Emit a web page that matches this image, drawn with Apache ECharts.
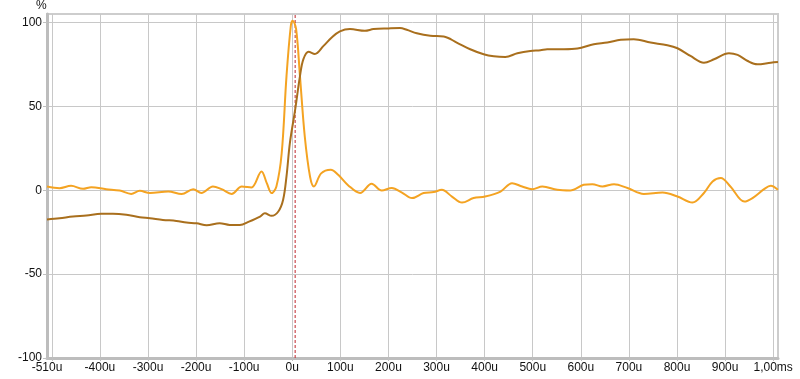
<!DOCTYPE html>
<html>
<head>
<meta charset="utf-8">
<script src="https://cdn.jsdelivr.net/npm/echarts@6/dist/echarts.min.js"></script>
<style>html,body{margin:0;padding:0;background:#fff;}#c{width:800px;height:379px;}</style>
</head>
<body>
<div id="c"></div>
<script>
// Impulse response (orange) — time in microseconds, value in %
var impulseTimes = [-510,-484,-460,-435,-418,-387,-359,-335,-317,-296,-258,-230,-206,-189,-165,-147,-126,-105,-85,-64,-53,-43,-33,-22,-12,-3,1,8,16,26,37,45,60,80,96,116,141,165,186,207,228,249,273,294,311,332,353,377,401,433,457,478,499,520,551,578,606,624,645,669,697,731,770,801,832,856,874,891,911,940,957,981,995,1010];
var impulseValues = [2.2,1.2,2.6,0.8,1.8,0.6,-0.2,-2.2,-0.4,-1.7,-0.8,-2.3,0.6,-1.7,2.2,0.6,-2.2,2.2,1.6,11.2,4.2,-1.7,2.2,22,68,98,101,96,68,32,8,2.2,10,12.2,9,3,-1.7,3.8,-0.2,1.3,-1.4,-4.7,-1.7,-1.1,0.2,-3.8,-7.4,-4.7,-3.8,-0.8,4.2,2.2,0.6,2.2,0.2,-0.2,3.2,3.6,2.2,3.6,1.3,-2.2,-1.4,-3.8,-7.4,-1.7,5.2,7.2,2.2,-6.8,-4.7,0.6,2.6,0.2];

// Step response (brown)
var stepTimes = [-510,-484,-456,-428,-397,-373,-345,-317,-296,-269,-241,-220,-199,-178,-151,-130,-109,-90,-67,-57,-43,-29,-19,-12,-5,6,16,23,34,47,65,82,99,120,151,169,200,224,238,259,287,315,342,370,398,419,443,468,495,516,530,565,593,627,655,683,710,745,780,801,828,856,877,908,926,947,967,995,1010];
var stepValues = [-17.4,-16.7,-15.7,-15.1,-14.1,-14.1,-14.7,-16.1,-16.7,-17.7,-18.3,-19.3,-19.7,-20.9,-19.7,-20.7,-20.7,-18.7,-15.7,-13.7,-15.3,-12.7,-5.7,8.2,28,48,68,78,82.5,81.2,86,91,94.6,96,95,96,96.4,96.6,95.6,93.5,92,91.6,88,84,81,79.8,79.4,81.6,83,83.4,84,84,84.4,87,88,89.6,90,88,86.4,84.6,80,76,78,81.6,80.6,77,75,76,76.4];

var xLabelValues = [-510,-400,-300,-200,-100,0,100,200,300,400,500,600,700,800,900,1000];
var xGridValues = [-500,-400,-300,-200,-100,0,100,200,300,400,500,600,700,800,900,1000];
var yTickValues = [-100,-50,0,50,100];
var markerTime = 6;
var yMin = -100, yMax = 105;

function zip(a, b) { return a.map(function (v, i) { return [v, b[i]]; }); }

var chart = echarts.init(document.getElementById('c'), null, {renderer: 'canvas'});
var font = 'Liberation Sans, Arial, sans-serif';
chart.setOption({
  animation: false,
  backgroundColor: '#ffffff',
  title: {text: '%', left: 31, top: -5, textStyle: {fontFamily: font, fontSize: 12, fontWeight: 'normal', color: '#111'}},
  grid: {left: 47, right: 22, top: 14, bottom: 21, show: true, borderColor: '#cdcdcd', borderWidth: 2},
  xAxis: {
    type: 'value', min: -510, max: 1010,
    axisLine: {show: true, onZero: false, lineStyle: {color: '#bdbdbd', width: 3}},
    axisTick: {show: true, length: 3, customValues: xGridValues, lineStyle: {color: '#c0c0c0'}},
    axisLabel: {customValues: xLabelValues, margin: 4, fontFamily: font, fontSize: 12, color: '#111',
      formatter: function (v) { return v >= 1000 ? '1,00ms' : v + 'u'; }},
    splitLine: {show: true, lineStyle: {color: '#c8c8c8', width: 1}}
  },
  yAxis: {
    type: 'value', min: yMin, max: yMax,
    axisLine: {show: true, onZero: false, lineStyle: {color: '#bdbdbd', width: 3}},
    axisTick: {show: true, length: 4, customValues: yTickValues, lineStyle: {color: '#c0c0c0'}},
    axisLabel: {customValues: yTickValues, margin: 5, fontFamily: font, fontSize: 12, color: '#111'},
    splitLine: {show: true, lineStyle: {color: '#c8c8c8', width: 1}}
  },
  series: [
    {
      type: 'line', data: [[markerTime, yMin], [markerTime, yMax]], showSymbol: false, silent: true,
      lineStyle: {color: '#c0282d', type: [3, 2], width: 1}, z: 1
    },
    {
      type: 'line', data: zip(stepTimes, stepValues), smooth: 0.35, showSymbol: false,
      lineStyle: {color: '#a96f1d', width: 2}, z: 3
    },
    {
      type: 'line', data: zip(impulseTimes, impulseValues), smooth: 0.35, showSymbol: false,
      lineStyle: {color: '#f4a322', width: 2}, z: 2
    }
  ]
});
</script>
</body>
</html>
